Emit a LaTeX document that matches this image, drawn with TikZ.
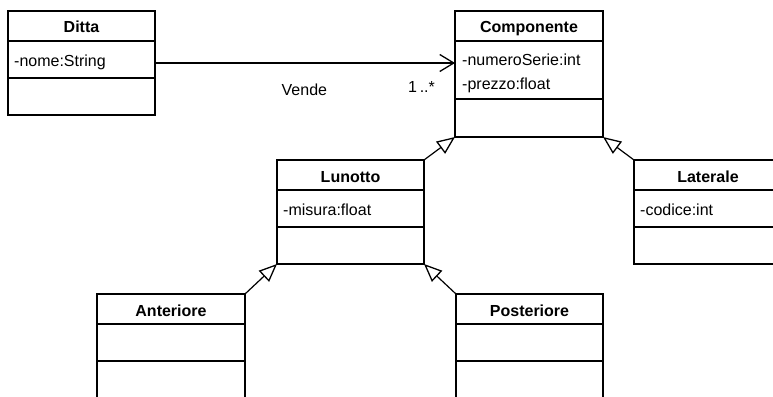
\documentclass[tikz,border=0pt]{standalone}
\usepackage{fontspec}
\setmainfont{Liberation Sans}
\usetikzlibrary{arrows.meta}
\tikzset{
  classbox/.style={draw, line width=1.2pt, rectangle, inner sep=0pt, outer sep=0pt, anchor=north west},
  sepline/.style={line width=1.2pt},
  ctitle/.style={inner sep=0pt, anchor=base, font=\fontsize{16}{19}\selectfont\bfseries},
  cattr/.style={inner sep=0pt, anchor=base west, font=\fontsize{16}{19}\selectfont},
  assoc/.style={line width=1.2pt, -{Straight Barb[length=14pt,width=17pt,line width=1.3pt]}},
  gen/.style={line width=1.2pt, -{Triangle[open,length=18pt,width=15pt,line width=1.3pt,fill=white]}},
  lbl/.style={inner sep=0pt, anchor=base west, font=\fontsize{16}{19}\selectfont}
}
\begin{document}
\begin{tikzpicture}[x=1pt,y=-1pt]
\useasboundingbox (0,0) rectangle (773,396);
\clip (0,0) rectangle (773,396);
% Ditta
\node[classbox, minimum width=147pt, minimum height=104pt] (ditta) at (8,11) {};
\draw[sepline] ([yshift=-30pt]ditta.north west) -- ([yshift=-30pt]ditta.north east);
\draw[sepline] ([yshift=-67pt]ditta.north west) -- ([yshift=-67pt]ditta.north east);
\node[ctitle] (dittaT) at ([yshift=-21.5pt]ditta.north) {Ditta};
\node[cattr] (dittaA) at ([xshift=6pt,yshift=-55.5pt]ditta.north west) {-nome:String};
% Componente
\node[classbox, minimum width=148pt, minimum height=126pt] (comp) at (455,11) {};
\draw[sepline] ([yshift=-30pt]comp.north west) -- ([yshift=-30pt]comp.north east);
\draw[sepline] ([yshift=-88pt]comp.north west) -- ([yshift=-88pt]comp.north east);
\node[ctitle] (compT) at ([yshift=-21.5pt]comp.north) {Componente};
\node[cattr] (compA1) at ([xshift=7pt,yshift=-55pt]comp.north west) {-numeroSerie:int};
\node[cattr] (compA2) at ([xshift=7pt,yshift=-78pt]comp.north west) {-prezzo:float};
% Lunotto
\node[classbox, minimum width=147pt, minimum height=104pt] (lun) at (277,160) {};
\draw[sepline] ([yshift=-30pt]lun.north west) -- ([yshift=-30pt]lun.north east);
\draw[sepline] ([yshift=-67pt]lun.north west) -- ([yshift=-67pt]lun.north east);
\node[ctitle] (lunT) at ([yshift=-22pt]lun.north) {Lunotto};
\node[cattr] (lunA) at ([xshift=6pt,yshift=-55pt]lun.north west) {-misura:float};
% Laterale
\node[classbox, minimum width=148pt, minimum height=104pt] (lat) at (634,160) {};
\draw[sepline] ([yshift=-30pt]lat.north west) -- ([yshift=-30pt]lat.north east);
\draw[sepline] ([yshift=-67pt]lat.north west) -- ([yshift=-67pt]lat.north east);
\node[ctitle] (latT) at ([yshift=-22pt]lat.north) {Laterale};
\node[cattr] (latA) at ([xshift=6pt,yshift=-55pt]lat.north west) {-codice:int};
% Anteriore
\node[classbox, minimum width=148pt, minimum height=106pt] (ant) at (97,294) {};
\draw[sepline] ([yshift=-30pt]ant.north west) -- ([yshift=-30pt]ant.north east);
\draw[sepline] ([yshift=-67pt]ant.north west) -- ([yshift=-67pt]ant.north east);
\node[ctitle] (antT) at ([yshift=-22.5pt]ant.north) {Anteriore};
% Posteriore
\node[classbox, minimum width=147pt, minimum height=106pt] (post) at (456,294) {};
\draw[sepline] ([yshift=-30pt]post.north west) -- ([yshift=-30pt]post.north east);
\draw[sepline] ([yshift=-67pt]post.north west) -- ([yshift=-67pt]post.north east);
\node[ctitle] (postT) at ([yshift=-22.5pt]post.north) {Posteriore};
% association
\draw[assoc] (ditta.east) -- (ditta.east -| comp.west);
\node[lbl] (vende) at (281.5,95) {Vende};
\node[lbl] (mult) at (408,92.5) {1\,..*};
% generalizations
\draw[gen] (lun.north east) -- (comp.south west);
\draw[gen] (lat.north west) -- (comp.south east);
\draw[gen] (ant.north east) -- (lun.south west);
\draw[gen] (post.north west) -- (lun.south east);
\end{tikzpicture}
\end{document}
